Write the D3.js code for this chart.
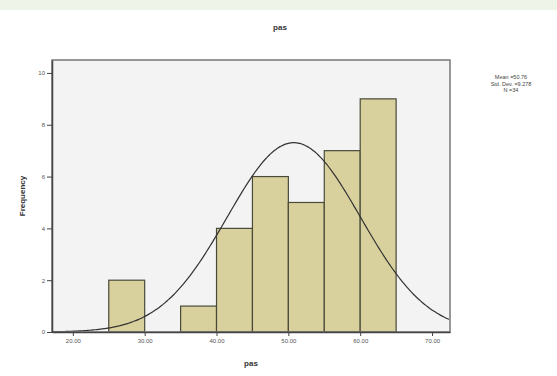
<!DOCTYPE html>
<html>
<head>
<meta charset="utf-8">
<script src="https://cdn.jsdelivr.net/npm/d3@7"></script>
<style>
  body { margin: 0; background: #fff; }
  svg { display: block; font-family: Arial, "Liberation Sans", sans-serif; }
</style>
</head>
<body>
<div id="canvas"></div>
<script>
// histogram bins (lower edge, upper edge) and counts
const binStarts = [25, 35, 40, 45, 50, 55, 60];
const binWidth = 5;
const counts = [2, 1, 4, 6, 5, 7, 9];
const xTicks = [20, 30, 40, 50, 60, 70];
const yTicks = [0, 2, 4, 6, 8, 10];
const mean = 50.76;
const stdDev = 9.278;
const n = 34;
const legendLines = ['Mean =50.76', 'Std. Dev. =9.278', 'N =34'];

const w = 557;
const h = 376;
const plotLeft = 52, plotRight = 450, plotTop = 60, plotBottom = 332;

const svg = d3.select('#canvas')
  .append('svg')
  .attr('width', w)
  .attr('height', h);

// top band
svg.append('rect')
  .attr('x', 0).attr('y', 0)
  .attr('width', w).attr('height', 10)
  .attr('fill', '#eef5e8');

const xScale = d3.scaleLinear()
  .domain([17.1, 72.5])
  .range([plotLeft, plotRight]);

const yScale = d3.scaleLinear()
  .domain([0, 10.5])
  .range([plotBottom, plotTop]);

// plot area
svg.append('rect')
  .attr('x', plotLeft).attr('y', plotTop)
  .attr('width', plotRight - plotLeft).attr('height', plotBottom - plotTop)
  .attr('fill', '#f3f3f3');

// bars
svg.append('g')
  .selectAll('rect')
  .data(binStarts.map((b, i) => ({ x0: b, x1: b + binWidth, c: counts[i] })))
  .enter()
  .append('rect')
  .attr('x', d => xScale(d.x0))
  .attr('y', d => yScale(d.c))
  .attr('width', d => xScale(d.x1) - xScale(d.x0))
  .attr('height', d => yScale(0) - yScale(d.c))
  .attr('fill', '#d8d09d')
  .attr('stroke', '#4a4a3a')
  .attr('stroke-width', 1.2);

// normal curve from the stated mean / std. dev.
const xs = d3.range(xScale.domain()[0], xScale.domain()[1] + 0.01, 0.25);
const normal = v => n * binWidth / (stdDev * Math.sqrt(2 * Math.PI)) *
  Math.exp(-0.5 * Math.pow((v - mean) / stdDev, 2));
const line = d3.line()
  .x(d => xScale(d))
  .y(d => yScale(normal(d)))
  .curve(d3.curveBasis);
svg.append('path')
  .datum(xs)
  .attr('d', line)
  .attr('fill', 'none')
  .attr('stroke', '#333')
  .attr('stroke-width', 1.2);

// frame
svg.append('rect')
  .attr('x', plotLeft).attr('y', plotTop)
  .attr('width', plotRight - plotLeft).attr('height', plotBottom - plotTop)
  .attr('fill', 'none')
  .attr('stroke', '#777')
  .attr('stroke-width', 1.5);

// axes
const xAxis = d3.axisBottom(xScale)
  .tickValues(xTicks)
  .tickFormat(d3.format('.2f'))
  .tickSize(4)
  .tickSizeOuter(0);
const yAxis = d3.axisLeft(yScale)
  .tickValues(yTicks)
  .tickFormat(d3.format('d'))
  .tickSize(5)
  .tickSizeOuter(0);

const gx = svg.append('g')
  .attr('transform', 'translate(0,' + plotBottom + ')')
  .call(xAxis);
const gy = svg.append('g')
  .attr('transform', 'translate(' + plotLeft + ',0)')
  .call(yAxis);

[gx, gy].forEach(g => {
  g.select('.domain').attr('stroke', '#444').attr('stroke-width', 1.5);
  g.selectAll('.tick line').attr('stroke', '#444');
  g.selectAll('.tick text')
    .attr('fill', '#555')
    .style('font-size', '6px');
});
gy.selectAll('.tick text').attr('x', -7);

// titles
svg.append('text')
  .attr('x', 280).attr('y', 30)
  .attr('text-anchor', 'middle')
  .style('font-size', '8px')
  .style('font-weight', 'bold')
  .attr('fill', '#333')
  .text('pas');

svg.append('text')
  .attr('x', (plotLeft + plotRight) / 2).attr('y', 366)
  .attr('text-anchor', 'middle')
  .style('font-size', '8px')
  .style('font-weight', 'bold')
  .attr('fill', '#333')
  .text('pas');

svg.append('text')
  .attr('transform', 'translate(25,' + ((plotTop + plotBottom) / 2) + ') rotate(-90)')
  .attr('text-anchor', 'middle')
  .style('font-size', '8px')
  .style('font-weight', 'bold')
  .attr('fill', '#333')
  .text('Frequency');

// legend
svg.append('g')
  .selectAll('text')
  .data(legendLines)
  .enter()
  .append('text')
  .attr('x', 511)
  .attr('y', (d, i) => 79 + i * 6.5)
  .attr('text-anchor', 'middle')
  .style('font-size', '5.5px')
  .attr('fill', '#444')
  .text(d => d);
</script>
</body>
</html>
